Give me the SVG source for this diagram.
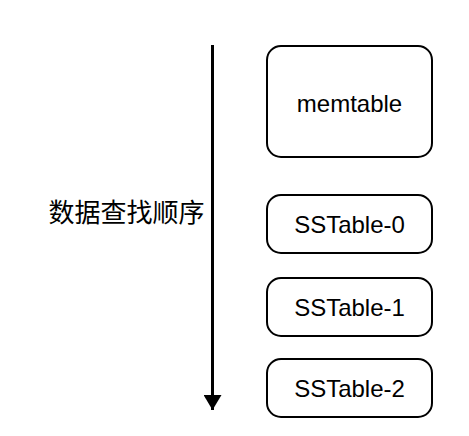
<svg xmlns="http://www.w3.org/2000/svg" width="469" height="436" viewBox="0 0 469 436">
<style>
.box{fill:#fff;stroke:#000;stroke-width:2}
.t{font-family:"Liberation Sans",Arial,sans-serif;font-size:24px;fill:#000;text-anchor:middle;dominant-baseline:central}
</style>
<defs>
<marker id="ah" markerWidth="5" markerHeight="6" refX="5" refY="3" orient="auto" markerUnits="strokeWidth">
<path d="M0,0 L5,3 L0,6 z" fill="#000"/>
</marker>
</defs>
<rect width="469" height="436" fill="#fff"/>
<g id="connectors">
<line x1="212.5" y1="45" x2="212.5" y2="410" stroke="#000" stroke-width="3" marker-end="url(#ah)"/>
</g>
<g id="label">
<text x="126.5" y="210" class="t" style="font-family:'Noto Sans CJK SC',sans-serif;font-size:26px">数据查找顺序</text>
</g>
<g id="memtable">
<rect class="box" x="267" y="46" width="165" height="111" rx="14"/>
<text class="t" x="349.5" y="103">memtable</text>
</g>
<g id="sstable0">
<rect class="box" x="267" y="195" width="165" height="58" rx="14"/>
<text class="t" x="349.5" y="224">SSTable-0</text>
</g>
<g id="sstable1">
<rect class="box" x="267" y="278" width="165" height="58" rx="14"/>
<text class="t" x="349.5" y="307">SSTable-1</text>
</g>
<g id="sstable2">
<rect class="box" x="267" y="359" width="165" height="58" rx="14"/>
<text class="t" x="349.5" y="388">SSTable-2</text>
</g>
</svg>
